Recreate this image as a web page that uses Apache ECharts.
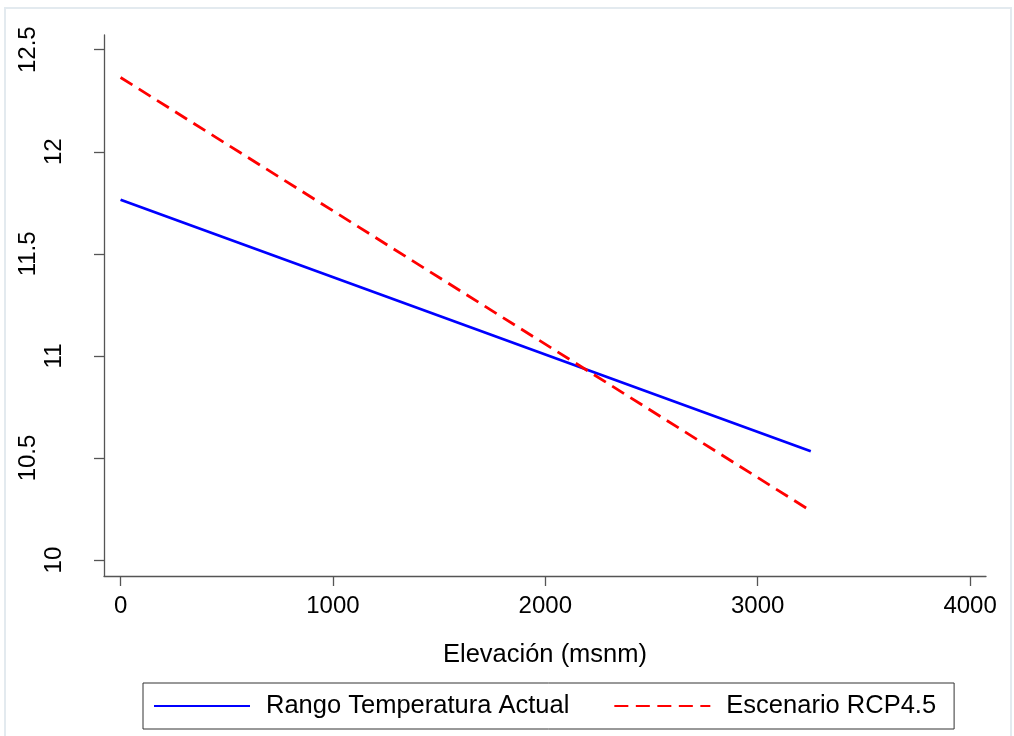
<!DOCTYPE html>
<html>
<head>
<meta charset="utf-8">
<script src="https://cdn.jsdelivr.net/npm/echarts@6/dist/echarts.min.js"></script>
<style>
  html, body { margin: 0; padding: 0; background: #ffffff; }
  #chart { width: 1014px; height: 736px; }
</style>
</head>
<body>
<div id="chart"></div>
<script>
// Data
const elevation = [0, 3250];                 // msnm
const rangoActual = [11.765, 10.533];        // Rango Temperatura Actual
const escenarioRCP45 = [12.364, 10.241];     // Escenario RCP4.5
const xTickValues = [0, 1000, 2000, 3000, 4000];
const yTickValues = [10, 10.5, 11, 11.5, 12, 12.5];
const seriesNames = ['Rango Temperatura Actual', 'Escenario RCP4.5'];
const xAxisTitle = 'Elevación (msnm)';

const FONT = '"Liberation Sans", Arial, sans-serif';
const AXIS_COLOR = '#555555';

const chart = echarts.init(document.getElementById('chart'), null, { renderer: 'canvas' });

const option = {
  backgroundColor: '#ffffff',
  animation: false,
  graphic: [{
    type: 'rect',
    shape: { x: 5, y: 8, width: 1006, height: 745 },
    style: { fill: 'none', stroke: '#e3eaef', lineWidth: 2 },
    silent: true,
    z: -10
  }],
  grid: {
    left: 104, right: 28, top: 35, bottom: 160,
    containLabel: false,
    outerBoundsMode: 'none'
  },
  legend: {
    left: 143, top: 683,
    orient: 'horizontal',
    borderColor: '#333333', borderWidth: 1,
    padding: [10, 18, 10, 10],
    itemWidth: 96, itemHeight: 14, itemGap: 44,
    itemStyle: { color: 'rgba(0,0,0,0)', borderColor: 'rgba(0,0,0,0)', borderWidth: 0 },
    textStyle: { fontFamily: FONT, fontSize: 25.5, color: '#000000', padding: [0, 0, 0, 11] },
    data: seriesNames
  },
  xAxis: {
    type: 'value',
    min: -78, max: 4075,
    name: xAxisTitle,
    nameLocation: 'middle',
    nameGap: 66,
    nameTextStyle: { fontFamily: FONT, fontSize: 25.5, color: '#000000' },
    axisLine: { show: true, onZero: false, lineStyle: { color: AXIS_COLOR, width: 1.3 } },
    axisTick: { show: true, length: 10, lineStyle: { color: AXIS_COLOR, width: 1.3 }, customValues: xTickValues },
    axisLabel: { fontFamily: FONT, fontSize: 24, color: '#000000', margin: 18, customValues: xTickValues,
      formatter: v => String(v) },
    splitLine: { show: false }
  },
  yAxis: {
    type: 'value',
    min: 9.922, max: 12.572,
    axisLine: { show: true, onZero: false, lineStyle: { color: AXIS_COLOR, width: 1.3 } },
    axisTick: { show: true, length: 10, lineStyle: { color: AXIS_COLOR, width: 1.3 }, customValues: yTickValues },
    axisLabel: {
      fontFamily: FONT, fontSize: 24, color: '#000000',
      rotate: 90, margin: 38,
      customValues: yTickValues,
      formatter: v => {
        const s = String(v);
        return s.indexOf('.') >= 0 ? '{w|' + s + '}' : '{n|' + s + '}';
      },
      rich: {
        n: { fontFamily: FONT, fontSize: 24, color: '#000000' },
        w: { fontFamily: FONT, fontSize: 24, color: '#000000', padding: [0, 0, 26, 0] }
      }
    },
    splitLine: { show: false }
  },
  series: [
    {
      name: seriesNames[0],
      type: 'line',
      symbol: 'none',
      data: elevation.map((x, i) => [x, rangoActual[i]]),
      lineStyle: { color: '#0000ff', width: 2.8, type: 'solid' },
      itemStyle: { color: '#0000ff' }
    },
    {
      name: seriesNames[1],
      type: 'line',
      symbol: 'none',
      data: elevation.map((x, i) => [x, escenarioRCP45[i]]),
      lineStyle: { color: '#ff0000', width: 2.8, type: [14, 7.5] },
      itemStyle: { color: '#ff0000' }
    }
  ]
};

chart.setOption(option);
</script>
</body>
</html>
